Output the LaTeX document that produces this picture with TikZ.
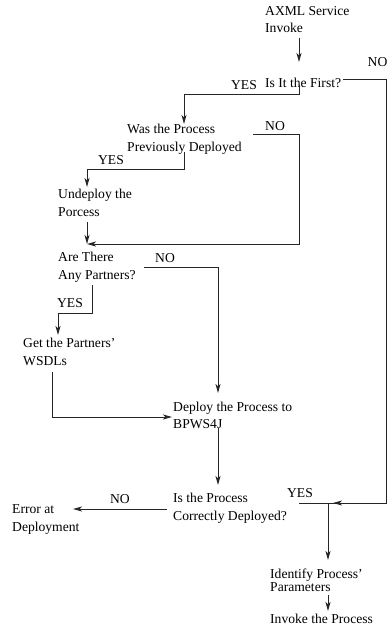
\documentclass[tikz,border=0pt]{standalone}
\usepackage{fontspec}
\setmainfont{Liberation Serif}
\usetikzlibrary{arrows.meta}
\begin{document}
\begin{tikzpicture}[x=1pt,y=-1pt,
  txt/.style={anchor=west,inner sep=0pt,align=left,font=\fontsize{13.6}{17.5}\selectfont},
  tight/.style={anchor=west,inner sep=0pt,align=left,font=\fontsize{13.6}{10.5}\selectfont},
  lbl/.style={inner sep=0pt,font=\fontsize{13.6}{17.5}\selectfont},
  ln/.style={line width=1pt,black!85},
  arr/.style={ln,-{Stealth[length=9pt,width=5pt,inset=2.5pt]}}]
\useasboundingbox (0,0) rectangle (388,628);

% steps of the flow
\node[txt] (axml) at (265,19.5) {AXML Service\\Invoke};
\node[txt] (first) at (265,83) {Is It the First?};
\node[txt] (wasdep) at (127,139.5) {Was the Process\\Previously Deployed};
\node[txt] (undeploy) at (58,203) {Undeploy the\\Porcess};
\node[txt] (partners) at (58,267) {Are There\\Any Partners?};
\node[txt] (getwsdl) at (23,352) {Get the Partners'\\WSDLs};
\node[txt] (deploy) at (173,415.5) {Deploy the Process to\\BPWS4J};
\node[txt] (correct) at (173,508) {Is the Process\\Correctly Deployed?};
\node[txt] (error) at (12,519.5) {Error at\\Deployment};
\node[tight] (identify) at (270,580) {Identify Process'\\Parameters};
\node[txt] (invoke) at (270,619) {Invoke the Process};

% branch labels
\node[lbl] (l1) at (244,85) {YES};
\node[lbl] (l2) at (377.5,62) {NO};
\node[lbl] (l3) at (275,126) {NO};
\node[lbl] (l4) at (111,160) {YES};
\node[lbl] (l5) at (165,258) {NO};
\node[lbl] (l6) at (70,303) {YES};
\node[lbl] (l7) at (120,499) {NO};
\node[lbl] (l8) at (300,493) {YES};

% connector end points and bends
\coordinate (a1) at (299,38);   \coordinate (a2) at (299,62);
\coordinate (b1) at (343,80);   \coordinate (b2) at (386,80);
\coordinate (b3) at (386,503);  \coordinate (b4) at (333,503);
\coordinate (b5) at (299,503);
\coordinate (c1) at (299,85);   \coordinate (c2) at (299,95);
\coordinate (c3) at (184,95);   \coordinate (c4) at (184,124);
\coordinate (d1) at (253,135);  \coordinate (d2) at (299,135);
\coordinate (d3) at (299,244);  \coordinate (join) at (87,244);
\coordinate (e1) at (184,152);  \coordinate (e2) at (184,170);
\coordinate (e3) at (87,170);   \coordinate (e4) at (87,187);
\coordinate (f1) at (87,222);
\coordinate (g1) at (144,267);  \coordinate (g2) at (218,267);
\coordinate (g3) at (218,393);
\coordinate (h1) at (92,285);   \coordinate (h2) at (92,313);
\coordinate (h3) at (58,313);   \coordinate (h4) at (58,335);
\coordinate (i1) at (52,372);   \coordinate (i2) at (52,417);
\coordinate (i3) at (172,417);
\coordinate (j1) at (218,428);  \coordinate (j2) at (218,485);
\coordinate (k1) at (167,509);  \coordinate (k2) at (73,509);
\coordinate (m1) at (328,503);  \coordinate (m2) at (328,560);
\coordinate (n1) at (328,595);  \coordinate (n2) at (328,611);

% connectors
\draw[arr] (a1) -- (a2);
\draw[arr] (b1) -- (b2) -- (b3) -- (b4);
\draw[ln] (b3) -- (b5);
\draw[arr] (c1) -- (c2) -- (c3) -- (c4);
\draw[arr] (d1) -- (d2) -- (d3) -- (join);
\draw[arr] (e1) -- (e2) -- (e3) -- (e4);
\draw[arr] (f1) -- (join);
\draw[arr] (g1) -- (g2) -- (g3);
\draw[arr] (h1) -- (h2) -- (h3) -- (h4);
\draw[arr] (i1) -- (i2) -- (i3);
\draw[arr] (j1) -- (j2);
\draw[arr] (k1) -- (k2);
\draw[arr] (m1) -- (m2);
\draw[arr] (n1) -- (n2);
\end{tikzpicture}
\end{document}
